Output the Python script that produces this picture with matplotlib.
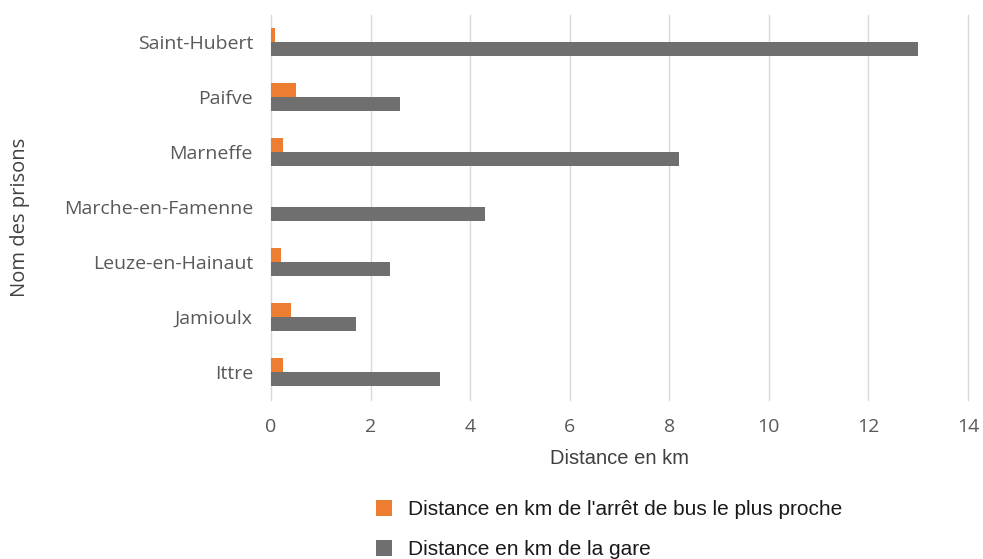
import matplotlib
matplotlib.use("Agg")
import matplotlib.pyplot as plt
import numpy as np

categories = ["Ittre", "Jamioulx", "Leuze-en-Hainaut", "Marche-en-Famenne",
              "Marneffe", "Paifve", "Saint-Hubert"]
bus_km = [0.25, 0.4, 0.2, 0.0, 0.25, 0.5, 0.08]
gare_km = [3.4, 1.7, 2.4, 4.3, 8.2, 2.6, 13.0]
xticks = [0, 2, 4, 6, 8, 10, 12, 14]

fig = plt.figure(figsize=(9.83, 5.59), dpi=100)
ax = fig.add_axes([271/983, 1-399.5/559, (968-271)/983, (399.5-14.5)/559])

y = np.arange(len(categories))
h = 0.26
ax.barh(y + h/2, bus_km, height=h, color="#ED7D31", label="Distance en km de l'arrêt de bus le plus proche", zorder=3)
ax.barh(y - h/2, gare_km, height=h, color="#6F6F6F", label="Distance en km de la gare", zorder=3)

ax.set_ylim(-0.5, len(categories) - 0.5)
ax.set_xlim(0, 14)
ax.set_xticks(xticks)
ax.set_yticks(y)
ax.set_yticklabels(categories, family="Open Sans", fontsize=14, color="#595959")
for lab in ax.get_xticklabels():
    lab.set_family("Open Sans"); lab.set_fontsize(14); lab.set_color("#595959")
ax.tick_params(axis="both", length=0)
ax.tick_params(axis="x", pad=13)
ax.tick_params(axis="y", pad=13)
ax.xaxis.grid(True, color="#D9D9D9", linewidth=1, zorder=0)
for gl in ax.get_xgridlines():
    gl.set_clip_on(False)
for s in ["top", "right", "bottom"]:
    ax.spines[s].set_visible(False)
ax.spines["left"].set_color("#D9D9D9")

ax.set_xlabel("Distance en km", family="Liberation Sans", fontsize=14.5, color="#404040", labelpad=10)
fig.text(20/983, 1-217/559, "Nom des prisons", rotation=90, ha="center", va="center",
         family="Open Sans", fontsize=14.5, color="#404040")

leg = fig.legend(loc="upper left", bbox_to_anchor=(368/983, 1-492/559), frameon=False,
                 prop={"family": "Liberation Sans", "size": 15},
                 handlelength=0.75, handleheight=0.75, labelspacing=1.0, handletextpad=0.75,
                 borderaxespad=0)
for t in leg.get_texts():
    t.set_color("#1a1a1a")

fig.savefig("out.png", dpi=100, facecolor="white")
